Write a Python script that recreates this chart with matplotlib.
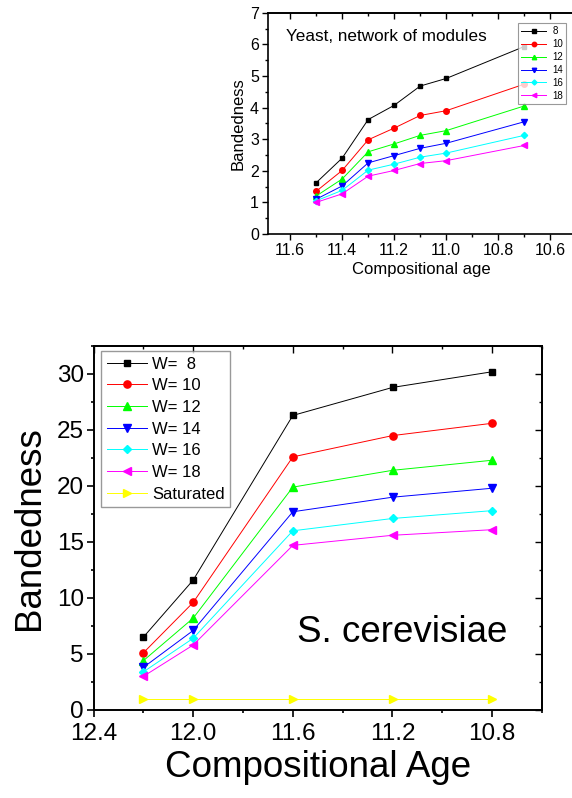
import matplotlib
matplotlib.use("Agg")
import matplotlib.pyplot as plt
from matplotlib.ticker import MultipleLocator, NullFormatter

plt.rcParams['font.family'] = ['Liberation Sans', 'DejaVu Sans']

# top panel: yeast, network of modules
top_age = [11.5, 11.4, 11.3, 11.2, 11.1, 11.0, 10.7]
top_labels = ['8', '10', '12', '14', '16', '18']
top_w8 = [1.62, 2.40, 3.62, 4.07, 4.68, 4.92, 5.93]
top_w10 = [1.35, 2.01, 2.98, 3.35, 3.75, 3.90, 4.74]
top_w12 = [1.20, 1.74, 2.60, 2.85, 3.12, 3.27, 4.05]
top_w14 = [1.10, 1.52, 2.25, 2.48, 2.71, 2.87, 3.55]
top_w16 = [1.05, 1.38, 2.02, 2.21, 2.43, 2.56, 3.12]
top_w18 = [1.00, 1.27, 1.83, 2.01, 2.23, 2.32, 2.80]

# bottom panel: S. cerevisiae
bot_age = [12.2, 12.0, 11.6, 11.2, 10.8]
bot_labels = ['W=  8', 'W= 10', 'W= 12', 'W= 14', 'W= 16', 'W= 18', 'Saturated']
bot_w8 = [6.5, 11.6, 26.3, 28.8, 30.2]
bot_w10 = [5.1, 9.6, 22.6, 24.5, 25.6]
bot_w12 = [4.4, 8.2, 19.9, 21.4, 22.3]
bot_w14 = [3.8, 7.1, 17.7, 19.0, 19.8]
bot_w16 = [3.4, 6.4, 16.0, 17.1, 17.8]
bot_w18 = [3.0, 5.8, 14.7, 15.6, 16.1]
bot_sat = [1.0, 1.0, 1.0, 1.0, 1.0]

colors = ['black', 'red', '#00ff00', 'blue', 'cyan', 'magenta', 'yellow']
markers = ['s', 'o', '^', 'v', 'D', '<', '>']
msize_scale = {'s': 0.85, 'D': 0.8}

W, H = 572, 798
fig = plt.figure(figsize=(W / 100, H / 100), dpi=100)


def mirror_ticks(ax, xmaj, xmin, ymaj, ymin, right=True, size=(5, 2.5)):
    top = ax.secondary_xaxis('top')
    top.xaxis.set_major_locator(MultipleLocator(xmaj))
    top.xaxis.set_minor_locator(MultipleLocator(xmin))
    top.xaxis.set_major_formatter(NullFormatter())
    top.tick_params(which='major', direction='in', length=size[0], width=1)
    top.tick_params(which='minor', direction='in', length=size[1], width=1)
    top.spines['top'].set_linewidth(1.2)
    if right:
        rt = ax.secondary_yaxis('right')
        rt.yaxis.set_major_locator(MultipleLocator(ymaj))
        rt.yaxis.set_minor_locator(MultipleLocator(ymin))
        rt.yaxis.set_major_formatter(NullFormatter())
        rt.tick_params(which='major', direction='in', length=size[0], width=1)
        rt.tick_params(which='minor', direction='in', length=size[1], width=1)
        rt.spines['right'].set_linewidth(1.2)


# ---- top panel ----
ax1 = fig.add_axes([268 / W, 1 - 234 / H, 307 / W, 221.3 / H])
top_series = [top_w8, top_w10, top_w12, top_w14, top_w16, top_w18]
for i, ys in enumerate(top_series):
    ax1.plot(top_age, ys, color=colors[i], marker=markers[i], lw=0.7,
             markersize=4 * msize_scale.get(markers[i], 1), label=top_labels[i])
ax1.set_xlim(11.685, 10.505)
ax1.set_ylim(0, 7)
ax1.xaxis.set_major_locator(MultipleLocator(0.2))
ax1.xaxis.set_minor_locator(MultipleLocator(0.1))
ax1.yaxis.set_major_locator(MultipleLocator(1))
ax1.yaxis.set_minor_locator(MultipleLocator(0.5))
ax1.xaxis.set_major_formatter(plt.FuncFormatter(lambda v, p: f'{v:.1f}'))
ax1.tick_params(which='major', direction='out', length=4.5, width=1, labelsize=11.5, pad=2)
ax1.tick_params(which='minor', direction='out', length=2.5, width=1)
for s in ax1.spines.values():
    s.set_linewidth(1.2)
ax1.spines['right'].set_visible(False)
mirror_ticks(ax1, 0.2, 0.1, 1, 0.5, right=False, size=(4.5, 2.5))
ax1.set_xlabel('Compositional age', fontsize=12, labelpad=3)
ax1.set_ylabel('Bandedness', fontsize=12, labelpad=3)
ax1.text(11.615, 6.1, 'Yeast, network of modules', fontsize=12.3, va='baseline')
leg1 = ax1.legend(loc='upper right', bbox_to_anchor=(566 / W, 1 - 23.3 / H),
                  bbox_transform=fig.transFigure, fontsize=7, frameon=True,
                  fancybox=False, edgecolor='#808080', borderpad=0.3,
                  labelspacing=0.3, handlelength=2.6, handletextpad=0.6,
                  borderaxespad=0, markerscale=0.8)
leg1.get_frame().set_linewidth(0.8)

# ---- bottom panel ----
ax2 = fig.add_axes([93.5 / W, 1 - 710 / H, 448.5 / W, 364 / H])
bot_series = [bot_w8, bot_w10, bot_w12, bot_w14, bot_w16, bot_w18, bot_sat]
for i, ys in enumerate(bot_series):
    ax2.plot(bot_age, ys, color=colors[i], marker=markers[i], lw=0.7,
             markersize=5.2 * msize_scale.get(markers[i], 1), label=bot_labels[i])
ax2.set_xlim(12.4, 10.6)
ax2.set_ylim(0, 32.5)
ax2.xaxis.set_major_locator(MultipleLocator(0.4))
ax2.xaxis.set_minor_locator(MultipleLocator(0.2))
ax2.yaxis.set_major_locator(MultipleLocator(5))
ax2.yaxis.set_minor_locator(MultipleLocator(2.5))
ax2.xaxis.set_major_formatter(plt.FuncFormatter(lambda v, p: f'{v:.1f}'))
ax2.tick_params(which='major', direction='out', length=5, width=1.2, labelsize=17.5, pad=2)
ax2.tick_params(axis='x', which='major', pad=4)
ax2.tick_params(which='minor', direction='out', length=2.5, width=1.2)
for s in ax2.spines.values():
    s.set_linewidth(1.4)
mirror_ticks(ax2, 0.4, 0.2, 5, 2.5, size=(5, 2.5))
ax2.set_xlabel('Compositional Age', fontsize=26.5, labelpad=4)
ax2.set_ylabel('Bandedness', fontsize=26.5, labelpad=7)
ax2.text(11.582, 6.1, 'S. cerevisiae', fontsize=26.5, va='baseline')
leg2 = ax2.legend(loc='upper left', bbox_to_anchor=(101 / W, 1 - 350.7 / H),
                  bbox_transform=fig.transFigure, fontsize=12, frameon=True,
                  fancybox=False, edgecolor='#808080', borderpad=0.35,
                  labelspacing=0.4, handlelength=2.4, handletextpad=0.3,
                  borderaxespad=0)
leg2.get_frame().set_linewidth(1.0)

fig.savefig('out.png', dpi=100)
